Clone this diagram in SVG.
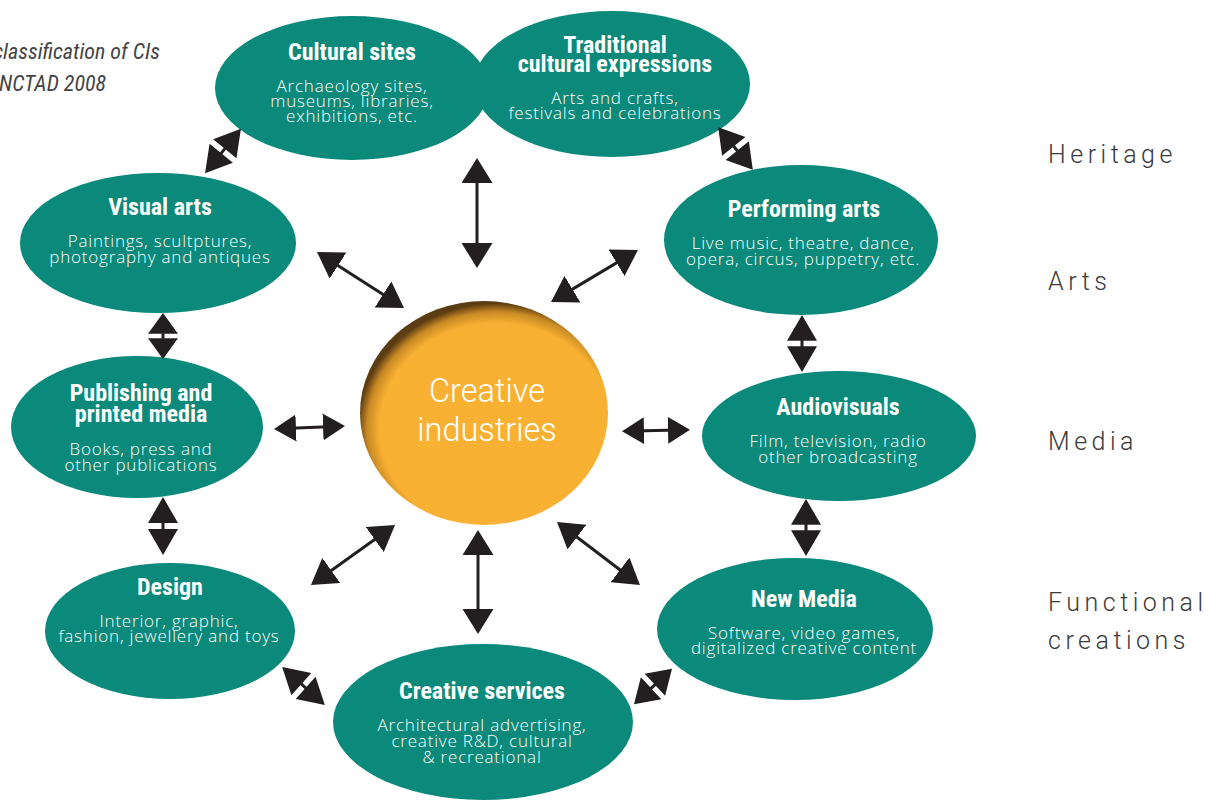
<svg xmlns="http://www.w3.org/2000/svg" width="1216" height="803" viewBox="0 0 1216 803">
<style>
.node{fill:#0B897A}
.t{font-family:"Liberation Sans Narrow","Roboto Condensed","DejaVu Sans Condensed",sans-serif;font-weight:bold;font-size:24px;fill:#fff;text-anchor:middle}
.b{font-family:"Open Sans",Roboto,"Liberation Sans",sans-serif;font-weight:300;font-size:17px;letter-spacing:0.8px;fill:#fff;text-anchor:middle}
.c{font-family:Roboto,"Liberation Sans",sans-serif;font-weight:300;font-size:32.5px;fill:#fff;text-anchor:middle}
.side{font-family:Roboto,"Liberation Sans",sans-serif;font-weight:300;font-size:25px;fill:#3a3a3a;letter-spacing:4.5px}
.cap{font-family:"Liberation Sans Narrow","Roboto Condensed",sans-serif;font-style:italic;font-size:22px;fill:#444;text-anchor:end}
.ln{stroke:#231F20;stroke-width:3;fill:none;marker-start:url(#ah);marker-end:url(#ah)}
.lh{stroke:#231F20;stroke-width:3;fill:none;marker-start:url(#ahs);marker-end:url(#ahs)}
.sa{fill:#231F20}
</style>
<defs>
<marker id="ah" markerUnits="userSpaceOnUse" viewBox="0 0 25 31" refX="15" refY="15.5" markerWidth="25" markerHeight="31" orient="auto-start-reverse">
<path d="M0,0 L25,15.5 L0,31 z" fill="#231F20"/>
</marker>
<marker id="ahs" markerUnits="userSpaceOnUse" viewBox="0 0 22 27" refX="12" refY="13.5" markerWidth="22" markerHeight="27" orient="auto-start-reverse">
<path d="M0,0 L22,13.5 L0,27 z" fill="#231F20"/>
</marker>
<radialGradient id="og" cx="0.55" cy="0.57" r="0.56">
<stop offset="0" stop-color="#F8B133"/>
<stop offset="0.84" stop-color="#F8B133"/>
<stop offset="0.93" stop-color="#C98A25"/>
<stop offset="1" stop-color="#5C3C12"/>
</radialGradient>
<g id="sa">
<path class="sa" d="M0,-25 L15,-2.5 L-15,-2.5 z M0,25 L15,2.5 L-15,2.5 z"/>
<rect class="sa" x="-1.5" y="-3" width="3" height="6"/>
</g>
</defs>

<text class="cap" x="160" y="59">classification of CIs</text>
<text class="cap" x="106" y="91">NCTAD 2008</text>

<g id="side-labels">
<text class="side" x="1048" y="163">Heritage</text>
<text class="side" x="1048" y="290">Arts</text>
<text class="side" x="1048" y="450">Media</text>
<text class="side" x="1048" y="611">Functional</text>
<text class="side" x="1048" y="649">creations</text>
</g>

<g id="n-cultural-sites">
<ellipse class="node" cx="352" cy="88" rx="137" ry="72"/>
<text class="t" x="352" y="60">Cultural sites</text>
<text class="b" x="352" y="92">Archaeology sites,</text>
<text class="b" x="352" y="107">museums, libraries,</text>
<text class="b" x="352" y="122">exhibitions, etc.</text>
</g>

<g id="n-traditional">
<ellipse class="node" cx="612" cy="84" rx="138" ry="73"/>
<text class="t" x="615" y="53">Traditional</text>
<text class="t" x="615" y="72">cultural expressions</text>
<text class="b" x="615" y="104">Arts and crafts,</text>
<text class="b" x="615" y="119">festivals and celebrations</text>
</g>

<g id="n-visual-arts">
<ellipse class="node" cx="158" cy="243" rx="138" ry="70"/>
<text class="t" x="160" y="215">Visual arts</text>
<text class="b" x="160" y="247">Paintings, scultptures,</text>
<text class="b" x="160" y="263">photography and antiques</text>
</g>

<g id="n-publishing">
<ellipse class="node" cx="137" cy="427" rx="126" ry="71"/>
<text class="t" x="141" y="401">Publishing and</text>
<text class="t" x="141" y="422">printed media</text>
<text class="b" x="141" y="455">Books, press and</text>
<text class="b" x="141" y="471">other publications</text>
</g>

<g id="n-design">
<ellipse class="node" cx="170" cy="631" rx="125" ry="68"/>
<text class="t" x="170" y="595">Design</text>
<text class="b" x="169" y="627">Interior, graphic,</text>
<text class="b" x="169" y="642">fashion, jewellery and toys</text>
</g>

<g id="n-creative-services">
<ellipse class="node" cx="483" cy="722" rx="150" ry="78"/>
<text class="t" x="482" y="699">Creative services</text>
<text class="b" x="482" y="731">Architectural advertising,</text>
<text class="b" x="482" y="747">creative R&amp;D, cultural</text>
<text class="b" x="482" y="763">&amp; recreational</text>
</g>

<g id="n-new-media">
<ellipse class="node" cx="795" cy="629" rx="138" ry="71"/>
<text class="t" x="804" y="607">New Media</text>
<text class="b" x="804" y="639">Software, video games,</text>
<text class="b" x="804" y="654">digitalized creative content</text>
</g>

<g id="n-audiovisuals">
<ellipse class="node" cx="839" cy="436" rx="137" ry="65"/>
<text class="t" x="838" y="415">Audiovisuals</text>
<text class="b" x="838" y="447">Film, television, radio</text>
<text class="b" x="838" y="463">other broadcasting</text>
</g>

<g id="n-performing-arts">
<ellipse class="node" cx="801" cy="240" rx="137" ry="75"/>
<text class="t" x="804" y="217">Performing arts</text>
<text class="b" x="803" y="249">Live music, theatre, dance,</text>
<text class="b" x="803" y="265">opera, circus, puppetry, etc.</text>
</g>

<g id="n-creative-industries">
<ellipse cx="484" cy="413" rx="124" ry="112" fill="url(#og)"/>
<text class="c" x="487" y="402">Creative</text>
<text class="c" x="487" y="441">industries</text>
</g>

<g id="connectors">
<line class="ln" x1="477" y1="168" x2="477" y2="258"/>
<line class="ln" x1="325.4" y1="257.4" x2="395.6" y2="302.6"/>
<line class="ln" x1="629.4" y1="255.1" x2="559.6" y2="296.9"/>
<line class="lh" x1="284" y1="428.6" x2="335" y2="426.4"/>
<line class="lh" x1="632" y1="431" x2="680" y2="430"/>
<line class="ln" x1="319.1" y1="579.2" x2="386.9" y2="530.8"/>
<line class="ln" x1="478" y1="540" x2="478" y2="624"/>
<line class="ln" x1="565" y1="528" x2="632" y2="579"/>
<use href="#sa" transform="translate(223,151) rotate(39) scale(1,1.14)"/>
<use href="#sa" transform="translate(735.5,148.5) rotate(-39) scale(1,1.1)"/>
<use href="#sa" transform="translate(163,336) scale(1,0.92)"/>
<use href="#sa" transform="translate(802,343.5) scale(1,1.14)"/>
<use href="#sa" transform="translate(163,526) scale(1,1.16)"/>
<use href="#sa" transform="translate(806,527.5) scale(1,1.14)"/>
<use href="#sa" transform="translate(303.5,686) rotate(-48.5) scale(1,1.14)"/>
<use href="#sa" transform="translate(653,686.5) rotate(47) scale(1,1.04)"/>
</g>
</svg>
